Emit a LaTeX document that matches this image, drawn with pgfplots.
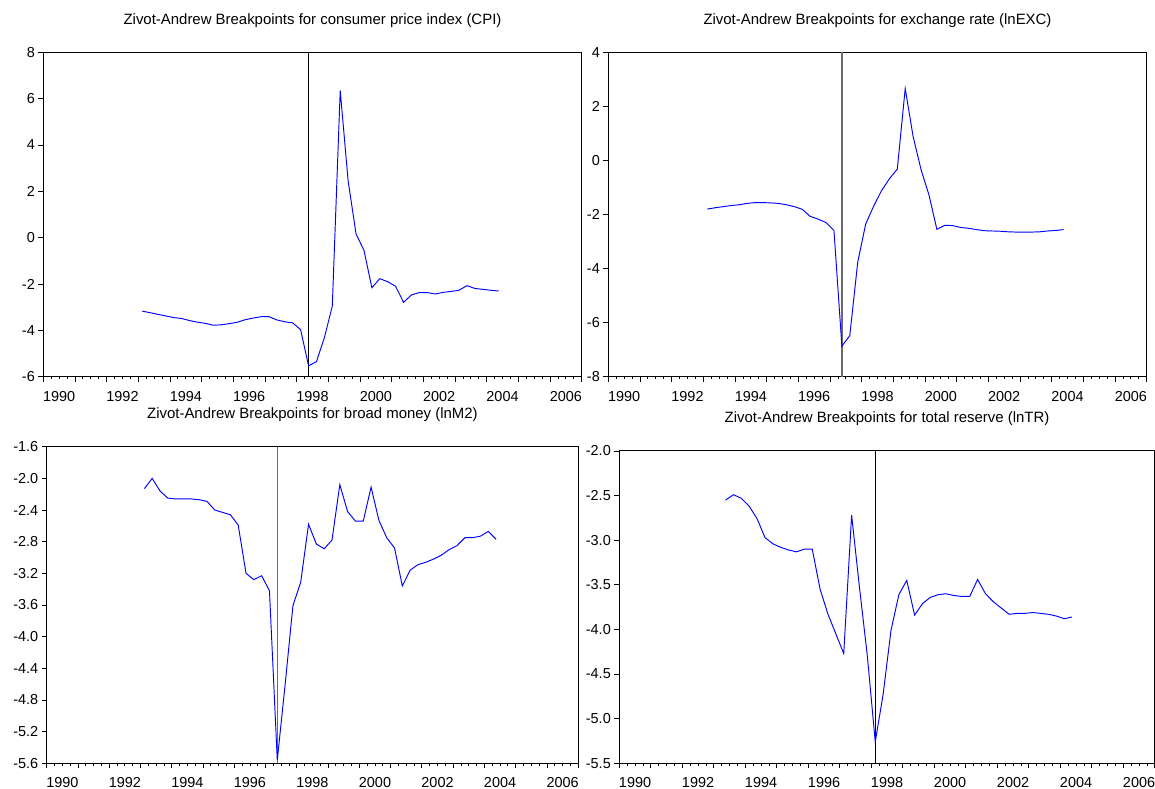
\documentclass[border=0pt]{standalone}
\usepackage{fontspec}
\setmainfont{Liberation Sans}
\usepackage{pgfplots}
\pgfplotsset{compat=1.18}
\definecolor{evblue}{rgb}{0,0,1}
\definecolor{evgray}{rgb}{0.42,0.42,0.42}
\pgfplotsset{
 ev/.style={
  scale only axis,
  xmin=1990, xmax=2007,
  axis line style={line width=1bp},
  tick align=outside,
  xtick pos=bottom, ytick pos=left,
  xtick={1990,1991,...,2007},
  xticklabels={},
  minor xtick={1990,1990.25,...,2007},
  major tick length=5bp,
  minor tick length=2.7bp,
  tick style={black, line width=0.8bp},
  extra x ticks={1990.5,1992.5,...,2006.5},
  extra x tick labels={1990,1992,1994,1996,1998,2000,2002,2004,2006},
  extra x tick style={tick style={draw=none}},
  tick label style={font=\fontsize{14.5}{16}\selectfont},
  x tick label style={yshift=-6bp},
  every axis title shift=0pt,
  title style={font=\fontsize{15}{17}\selectfont, at={(0.5,1)}, anchor=center, yshift=32bp},
  /pgf/number format/assume math mode=true,
  clip=true,
 },
 dat/.style={evblue, line width=0.95bp},
}
\begin{document}
\begin{tikzpicture}
\useasboundingbox (0,0) rectangle (1155bp,789bp);
% ---------- Panel 1: CPI
\begin{axis}[ev, at={(43.3bp,412.3bp)}, anchor=south west,
  width=538.4bp, height=324.4bp,
  ymin=-6, ymax=8, ytick={-6,-4,-2,0,2,4,6,8},
  title={Zivot-Andrew Breakpoints for consumer price index (CPI)}]
\addplot[black, line width=0.8bp] coordinates {(1998.375,-6) (1998.375,8)};
\addplot[dat] table {
1993.125 -3.17
1993.375 -3.24
1993.625 -3.31
1993.875 -3.38
1994.125 -3.45
1994.375 -3.49
1994.625 -3.58
1994.875 -3.65
1995.125 -3.70
1995.375 -3.78
1995.625 -3.76
1995.875 -3.71
1996.125 -3.65
1996.375 -3.54
1996.625 -3.47
1996.875 -3.41
1997.125 -3.41
1997.375 -3.55
1997.625 -3.63
1997.875 -3.68
1998.125 -3.97
1998.375 -5.53
1998.625 -5.35
1998.875 -4.32
1999.125 -2.95
1999.375 6.35
1999.625 2.45
1999.875 0.16
2000.125 -0.55
2000.375 -2.16
2000.625 -1.77
2000.875 -1.90
2001.125 -2.10
2001.375 -2.79
2001.625 -2.47
2001.875 -2.37
2002.125 -2.37
2002.375 -2.43
2002.625 -2.36
2002.875 -2.32
2003.125 -2.27
2003.375 -2.07
2003.625 -2.19
2003.875 -2.23
2004.125 -2.27
2004.375 -2.30
};
\end{axis}
% ---------- Panel 2: lnEXC
\begin{axis}[ev, at={(608.3bp,412.3bp)}, anchor=south west,
  width=538.4bp, height=324.4bp,
  ymin=-8, ymax=4, ytick={-8,-6,-4,-2,0,2,4},
  title={Zivot-Andrew Breakpoints for exchange rate (lnEXC)}]
\addplot[evgray, line width=1.3bp] coordinates {(1997.375,-8) (1997.375,4)};
\addplot[dat] table {
1993.125 -1.80
1993.375 -1.75
1993.625 -1.71
1993.875 -1.67
1994.125 -1.64
1994.375 -1.59
1994.625 -1.56
1994.875 -1.56
1995.125 -1.57
1995.375 -1.59
1995.625 -1.64
1995.875 -1.71
1996.125 -1.81
1996.375 -2.07
1996.625 -2.17
1996.875 -2.30
1997.125 -2.59
1997.375 -6.87
1997.625 -6.48
1997.875 -3.77
1998.125 -2.36
1998.375 -1.70
1998.625 -1.12
1998.875 -0.68
1999.125 -0.32
1999.375 2.66
1999.625 0.88
1999.875 -0.34
2000.125 -1.28
2000.375 -2.55
2000.625 -2.40
2000.875 -2.41
2001.125 -2.48
2001.375 -2.51
2001.625 -2.56
2001.875 -2.60
2002.125 -2.61
2002.375 -2.62
2002.625 -2.64
2002.875 -2.65
2003.125 -2.65
2003.375 -2.65
2003.625 -2.64
2003.875 -2.61
2004.125 -2.59
2004.375 -2.56
};
\end{axis}
% ---------- Panel 3: lnM2
\begin{axis}[ev, at={(46.7bp,25.7bp)}, anchor=south west,
  width=531.5bp, height=316.6bp,
  ymin=-5.6, ymax=-1.6, ytick={-5.6,-5.2,-4.8,-4.4,-4.0,-3.6,-3.2,-2.8,-2.4,-2.0,-1.6},
  yticklabel style={/pgf/number format/fixed, /pgf/number format/fixed zerofill, /pgf/number format/precision=1},
  title={Zivot-Andrew Breakpoints for broad money (lnM2)}]
\addplot[evgray, line width=1.3bp] coordinates {(1997.375,-5.6) (1997.375,-1.6)};
\addplot[dat] table {
1993.125 -2.13
1993.375 -2.00
1993.625 -2.16
1993.875 -2.25
1994.125 -2.26
1994.375 -2.26
1994.625 -2.26
1994.875 -2.27
1995.125 -2.29
1995.375 -2.40
1995.625 -2.43
1995.875 -2.46
1996.125 -2.59
1996.375 -3.20
1996.625 -3.28
1996.875 -3.23
1997.125 -3.42
1997.375 -5.56
1997.625 -4.61
1997.875 -3.61
1998.125 -3.31
1998.375 -2.58
1998.625 -2.83
1998.875 -2.89
1999.125 -2.78
1999.375 -2.08
1999.625 -2.42
1999.875 -2.54
2000.125 -2.54
2000.375 -2.11
2000.625 -2.53
2000.875 -2.75
2001.125 -2.88
2001.375 -3.36
2001.625 -3.16
2001.875 -3.09
2002.125 -3.06
2002.375 -3.02
2002.625 -2.97
2002.875 -2.90
2003.125 -2.85
2003.375 -2.75
2003.625 -2.75
2003.875 -2.73
2004.125 -2.67
2004.375 -2.77
};
\end{axis}
% ---------- Panel 4: lnTR
\begin{axis}[ev, at={(619.3bp,25.7bp)}, anchor=south west,
  width=535.5bp, height=312.3bp,
  ymin=-5.5, ymax=-2.0, ytick={-5.5,-5.0,-4.5,-4.0,-3.5,-3.0,-2.5,-2.0},
  yticklabel style={/pgf/number format/fixed, /pgf/number format/fixed zerofill, /pgf/number format/precision=1},
  title={Zivot-Andrew Breakpoints for total reserve (lnTR)}]
\addplot[black, line width=0.8bp] coordinates {(1998.125,-5.5) (1998.125,-2.0)};
\addplot[dat] table {
1993.375 -2.55
1993.625 -2.49
1993.875 -2.53
1994.125 -2.62
1994.375 -2.76
1994.625 -2.97
1994.875 -3.04
1995.125 -3.08
1995.375 -3.11
1995.625 -3.13
1995.875 -3.10
1996.125 -3.10
1996.375 -3.55
1996.625 -3.83
1996.875 -4.05
1997.125 -4.27
1997.375 -2.72
1997.625 -3.53
1997.875 -4.30
1998.125 -5.26
1998.375 -4.73
1998.625 -4.01
1998.875 -3.61
1999.125 -3.45
1999.375 -3.84
1999.625 -3.71
1999.875 -3.64
2000.125 -3.61
2000.375 -3.60
2000.625 -3.62
2000.875 -3.63
2001.125 -3.63
2001.375 -3.44
2001.625 -3.60
2001.875 -3.69
2002.125 -3.76
2002.375 -3.83
2002.625 -3.82
2002.875 -3.82
2003.125 -3.81
2003.375 -3.82
2003.625 -3.83
2003.875 -3.85
2004.125 -3.88
2004.375 -3.86
};
\end{axis}
\end{tikzpicture}
\end{document}
